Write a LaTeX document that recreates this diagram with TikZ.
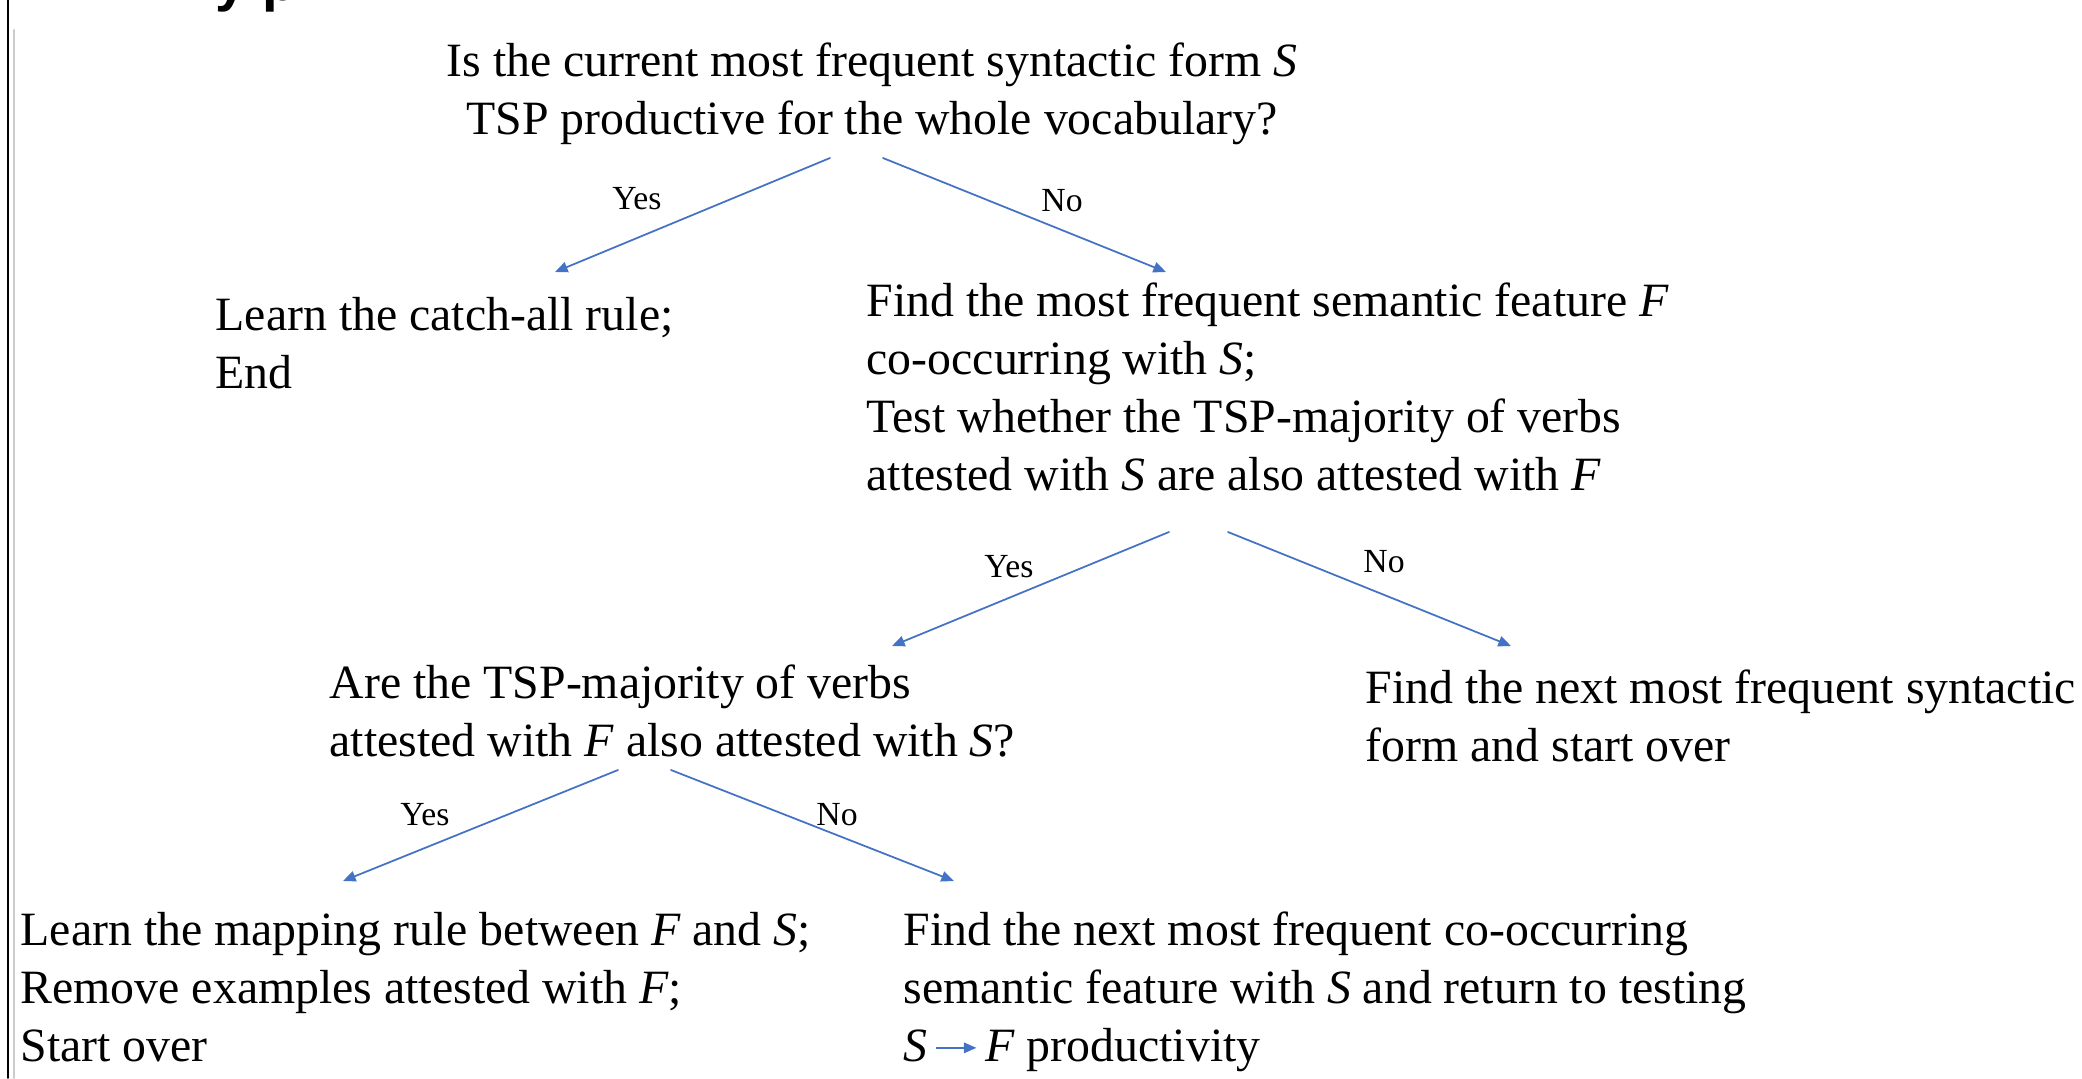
\documentclass[tikz,border=0pt]{standalone}
\usepackage{fontspec}
\setmainfont{Liberation Serif}
\setsansfont{Liberation Sans}
\usetikzlibrary{arrows.meta}
\definecolor{arrowblue}{RGB}{68,114,196}
\tikzset{
  txt/.style={anchor=base west, align=left, inner sep=0pt, font=\fontsize{13.6}{16.5}\selectfont},
  ctr/.style={anchor=base, align=center, inner sep=0pt, font=\fontsize{13.6}{16.5}\selectfont},
  lab/.style={inner sep=0pt, font=\fontsize{9.6}{11}\selectfont},
  flow/.style={arrowblue, line width=0.5pt, -{Triangle[length=3.6pt,width=3pt]}}
}
\begin{document}
\begin{tikzpicture}[x=0.1mm, y=-0.1mm, line join=round, line cap=round]
\useasboundingbox (0,0) rectangle (2082,1078);
% caption above, cut off by the page edge
\node[anchor=base west, inner sep=0pt, font=\fontsize{16}{16}\sffamily\bfseries] (caption) at (215,0) {y p};
\draw[line width=0.18mm] (8,0)--(8,1078);
\draw[black!20, line width=0.25mm] (14,30)--(14,1078);
% base anchors sit on the last line of each text
\node[ctr] (q1) at (872,134) {Is the current most frequent syntactic form \textit{S}\\TSP productive for the whole vocabulary?};
\node[txt] (catchall) at (215,388) {Learn the catch-all rule;\\End};
\node[txt] (findF) at (866,490) {Find the most frequent semantic feature \textit{F}\\co-occurring with \textit{S};\\Test whether the TSP-majority of verbs\\attested with \textit{S} are also attested with \textit{F}};
\node[txt] (q2) at (329,756) {Are the TSP-majority of verbs\\attested with \textit{F} also attested with \textit{S}?};
\node[txt] (nextS) at (1365,761) {Find the next most frequent syntactic\\form and start over};
\node[txt] (mapping) at (20,1061) {Learn the mapping rule between \textit{F} and \textit{S};\\Remove examples attested with \textit{F};\\Start over};
\node[txt] (nextF) at (903,1061) {Find the next most frequent co-occurring\\semantic feature with \textit{S} and return to testing\\\textit{S}\,\tikz[baseline=-0.6ex,x=1mm,y=1mm]\draw[flow](0,0)--(4,0);\,\textit{F} productivity};
\path (830,158) coordinate (q1-y) (883,158) coordinate (q1-n)
      (555,272) coordinate (catchall-t) (1166,272) coordinate (findF-t)
      (1169,532) coordinate (findF-y) (1228,532) coordinate (findF-n)
      (892,646) coordinate (q2-t) (1511,646) coordinate (nextS-t)
      (618,770) coordinate (q2-y) (671,770) coordinate (q2-n)
      (343,881) coordinate (mapping-t) (954,881) coordinate (nextF-t);
\foreach \s/\t/\l/\lx/\ly in {q1-y/catchall-t/Yes/637/199, q1-n/findF-t/No/1062/201,
    findF-y/q2-t/Yes/1009/567, findF-n/nextS-t/No/1384/562,
    q2-y/mapping-t/Yes/425/815, q2-n/nextF-t/No/837/815}{
  \draw[flow] (\s)--(\t);
  \node[lab] (lab-\t) at (\lx,\ly) {\l};}
\end{tikzpicture}
\end{document}
